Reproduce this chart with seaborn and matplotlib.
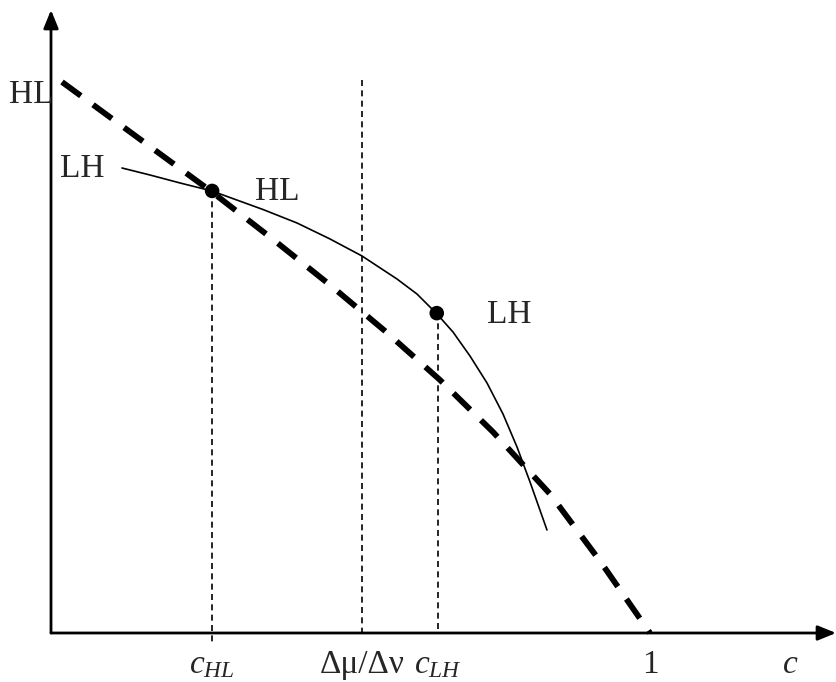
import matplotlib
matplotlib.use("Agg")
import matplotlib.pyplot as plt
import seaborn as sns
import pandas as pd

# HL schedule (thick dashed), read as (c, value) pairs
hl_c = [0.0184, 0.1436, 0.2688, 0.3656, 0.4658, 0.5576, 0.6494, 0.7379, 0.8331, 0.9165, 1.0000]
hl_v = [0.9199, 0.8280, 0.7362, 0.6611, 0.5810, 0.5042, 0.4224, 0.3356, 0.2321, 0.1202, 0.0000]

# LH schedule (thin solid)
lh_c = [0.1185, 0.1653, 0.2154, 0.2688, 0.2988, 0.3539, 0.4107, 0.4658, 0.5192, 0.5776,
        0.6110, 0.6444, 0.6711, 0.6995, 0.7279, 0.7546, 0.7780, 0.7997, 0.8280]
lh_v = [0.7763, 0.7646, 0.7513, 0.7379, 0.7270, 0.7070, 0.6845, 0.6578, 0.6294, 0.5910,
        0.5659, 0.5326, 0.5025, 0.4624, 0.4174, 0.3656, 0.3105, 0.2521, 0.1720]

# Marked crossing points
pt_c = [0.269, 0.644]
pt_v = [0.738, 0.534]

# Reference positions on the c axis
c_hl = 0.269
ratio = 0.519
c_lh = 0.646
tick_pos = [0.269, 0.519, 0.646, 1.0, 1.234]
tick_txt = [r"$c_{HL}$", "Δμ/Δν", r"$c_{LH}$", "1", r"$c$"]

sns.set_style("white")
plt.rcParams["font.family"] = ["Liberation Serif", "DejaVu Serif"]
plt.rcParams["mathtext.fontset"] = "custom"
plt.rcParams["mathtext.rm"] = "Liberation Serif"
plt.rcParams["mathtext.it"] = "Liberation Serif:italic"

W, H = 836, 682
fig = plt.figure(figsize=(W / 100, H / 100), dpi=100)
ax = fig.add_axes([0, 0, 1, 1])
ox, oy, s = 51, 633, 599
ax.set_xlim(-ox / s, (W - ox) / s)
ax.set_ylim(-(H - oy) / s, oy / s)
ax.axis("off")

def py(v):
    return (oy - v) / s

fs = 24

# axes with arrow heads
head = "-|>,head_length=1.1,head_width=0.45"
ax.annotate("", xy=(0, py(10)), xytext=(0, 0),
            arrowprops=dict(arrowstyle=head, lw=2.0, color="black", shrinkA=0, shrinkB=0))
ax.annotate("", xy=((W - ox) / s, 0), xytext=(0, 0),
            arrowprops=dict(arrowstyle=head, lw=2.0, color="black", shrinkA=0, shrinkB=0))

# vertical guides
thin_dash = (3.6, 2.6)
ax.plot([c_hl, c_hl], [pt_v[0], py(642)], color="black", lw=1.2, dashes=thin_dash)
ax.plot([ratio, ratio], [py(80), 0], color="black", lw=1.2, dashes=thin_dash)
ax.plot([c_lh, c_lh], [pt_v[1], 0], color="black", lw=1.2, dashes=thin_dash)

hl = pd.DataFrame({"c": hl_c, "v": hl_v})
lh = pd.DataFrame({"c": lh_c, "v": lh_v})
sns.lineplot(data=hl, x="c", y="v", ax=ax, sort=False, estimator=None,
             color="black", lw=4.2)
ax.lines[-1].set_dashes((4.0, 2.6))
ax.lines[-1].set_dash_capstyle("butt")
sns.lineplot(data=lh, x="c", y="v", ax=ax, sort=False, estimator=None,
             color="black", lw=1.2)
sns.scatterplot(x=pt_c, y=pt_v, ax=ax, color="black", s=110, edgecolor="none", zorder=5)

# curve labels
ax.text(3 / s, py(103), "HL", ha="right", va="baseline", fontsize=fs)
ax.text(9 / s, py(177), "LH", ha="left", va="baseline", fontsize=fs)
ax.text(204 / s, py(200), "HL", ha="left", va="baseline", fontsize=fs)
ax.text(436 / s, py(323), "LH", ha="left", va="baseline", fontsize=fs)

# c-axis labels
for x, t in zip(tick_pos, tick_txt):
    ax.text(x, py(673), t, ha="center", va="baseline", fontsize=fs)

fig.savefig("out.png", dpi=100)
